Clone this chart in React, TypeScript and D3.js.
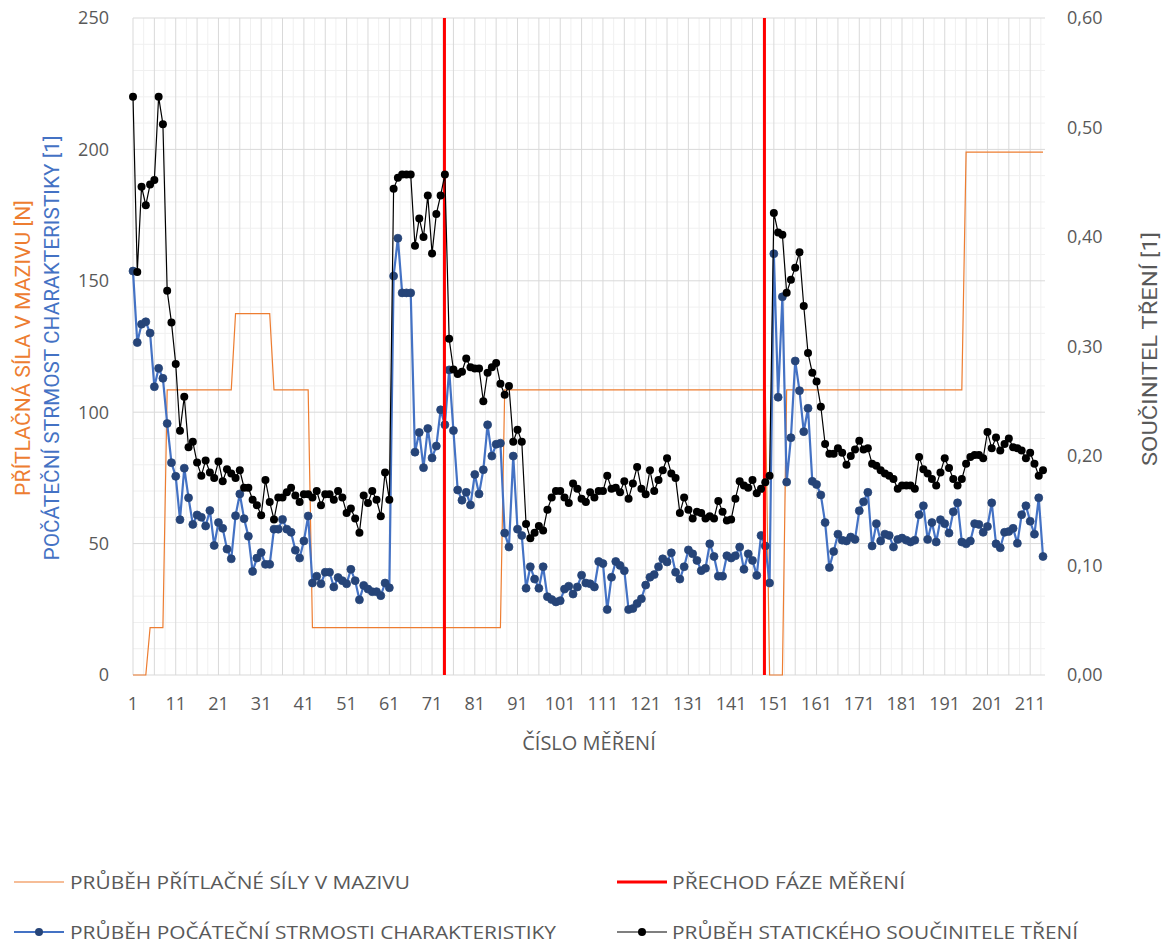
import React from "react";
import * as d3 from "d3";

// ---- data ----
const measurements: number[] = d3.range(1, 215); // čísla měření 1..214

// průběh přítlačné síly [N] as runs of constant value (first, last, value)
const forceRuns: [number, number, number][] = [
  [1, 4, 0],
  [5, 8, 18],
  [9, 24, 108.5],
  [25, 33, 137.5],
  [34, 42, 108.5],
  [43, 87, 18],
  [88, 149, 108.5],
  [150, 153, 0],
  [154, 195, 108.5],
  [196, 214, 199],
];

// počáteční strmost charakteristiky [1]
const slope: number[] = [
  153.7, 126.5, 133.5, 134.4, 130.1, 109.7, 116.7, 112.9, 95.7, 80.8,
  75.6, 59.1, 78.7, 67.4, 57.3, 60.9, 60.0, 56.7, 62.6, 49.3,
  58.0, 55.8, 47.9, 44.2, 60.6, 68.9, 59.5, 52.8, 39.4, 44.5,
  46.6, 42.1, 42.1, 55.5, 55.5, 59.2, 55.5, 54.3, 47.5, 44.5,
  51.0, 60.5, 35.0, 37.6, 34.7, 39.1, 39.1, 33.5, 37.1, 35.9,
  34.7, 40.2, 35.9, 28.6, 34.1, 32.7, 31.7, 31.7, 30.2, 35.0,
  33.2, 151.8, 166.2, 145.4, 145.4, 145.4, 84.8, 92.3, 78.9, 93.8,
  82.6, 87.1, 100.9, 95.2, 116.1, 93.0, 70.4, 66.5, 69.5, 64.7,
  76.3, 68.9, 78.1, 95.2, 83.3, 87.8, 88.2, 54.0, 48.7, 83.3,
  55.5, 53.1, 33.0, 41.2, 36.5, 33.0, 41.2, 29.8, 28.7, 27.8,
  28.3, 32.7, 33.8, 30.8, 33.5, 38.0, 35.0, 34.7, 33.5, 43.2,
  42.4, 24.9, 37.2, 43.2, 41.7, 39.7, 24.9, 25.3, 27.2, 29.0,
  34.2, 37.2, 38.2, 41.2, 44.2, 43.0, 46.5, 39.1, 36.5, 41.2,
  47.6, 46.1, 43.6, 39.7, 40.6, 49.9, 45.1, 37.6, 37.6, 45.4,
  44.5, 45.4, 48.7, 40.2, 46.1, 43.6, 37.9, 53.1, 49.1, 35.0,
  160.3, 105.7, 143.9, 73.4, 90.3, 119.5, 108.2, 92.6, 101.5, 73.7,
  72.5, 68.5, 58.0, 40.9, 47.0, 53.6, 51.3, 51.0, 52.5, 51.6,
  62.5, 65.9, 69.5, 49.1, 57.6, 51.0, 53.6, 53.1, 48.7, 51.6,
  52.1, 51.3, 50.6, 51.3, 61.0, 64.4, 51.6, 58.0, 50.6, 59.1,
  57.6, 54.0, 62.1, 65.5, 50.6, 49.9, 51.0, 57.6, 57.3, 54.3,
  56.5, 65.5, 49.9, 48.4, 54.3, 54.6, 55.8, 50.1, 61.0, 64.4,
  58.5, 53.6, 67.4, 45.1,
];

// statický součinitel tření [1]
const friction: number[] = [
  0.528, 0.368, 0.446, 0.429, 0.448, 0.452, 0.528, 0.503, 0.351, 0.322,
  0.284, 0.223, 0.254, 0.208, 0.213, 0.194, 0.182, 0.196, 0.185, 0.180,
  0.195, 0.177, 0.188, 0.184, 0.180, 0.187, 0.171, 0.171, 0.160, 0.155,
  0.146, 0.178, 0.158, 0.142, 0.162, 0.162, 0.167, 0.171, 0.164, 0.158,
  0.165, 0.165, 0.162, 0.168, 0.155, 0.165, 0.165, 0.160, 0.168, 0.162,
  0.148, 0.152, 0.143, 0.130, 0.164, 0.157, 0.168, 0.160, 0.145, 0.185,
  0.160, 0.444, 0.454, 0.457, 0.457, 0.457, 0.392, 0.417, 0.400, 0.438,
  0.385, 0.421, 0.438, 0.457, 0.307, 0.279, 0.275, 0.277, 0.289, 0.281,
  0.280, 0.280, 0.250, 0.276, 0.281, 0.285, 0.266, 0.256, 0.264, 0.213,
  0.224, 0.213, 0.138, 0.125, 0.130, 0.136, 0.132, 0.151, 0.162, 0.168,
  0.168, 0.162, 0.157, 0.175, 0.170, 0.161, 0.158, 0.167, 0.162, 0.168,
  0.168, 0.182, 0.170, 0.171, 0.167, 0.177, 0.161, 0.175, 0.190, 0.170,
  0.165, 0.187, 0.168, 0.178, 0.187, 0.198, 0.184, 0.180, 0.148, 0.162,
  0.151, 0.143, 0.149, 0.148, 0.143, 0.145, 0.143, 0.159, 0.149, 0.141,
  0.142, 0.161, 0.177, 0.173, 0.171, 0.178, 0.166, 0.170, 0.176, 0.182,
  0.422, 0.404, 0.402, 0.349, 0.361, 0.372, 0.386, 0.337, 0.294, 0.276,
  0.268, 0.245, 0.211, 0.202, 0.202, 0.207, 0.203, 0.192, 0.200, 0.206,
  0.214, 0.206, 0.207, 0.193, 0.191, 0.187, 0.184, 0.182, 0.179, 0.170,
  0.173, 0.173, 0.173, 0.170, 0.199, 0.188, 0.184, 0.179, 0.173, 0.185,
  0.198, 0.189, 0.179, 0.173, 0.179, 0.193, 0.199, 0.201, 0.201, 0.198,
  0.222, 0.207, 0.217, 0.205, 0.211, 0.216, 0.208, 0.207, 0.205, 0.198,
  0.203, 0.193, 0.182, 0.187,
];

// přechod fáze měření (positions on the measurement axis)
const phaseChanges: number[] = [73.9, 148.8];

const xTickLabels: number[] = [1, 11, 21, 31, 41, 51, 61, 71, 81, 91, 101, 111, 121, 131, 141, 151, 161, 171, 181, 191, 201, 211];
const leftTicks: number[] = [0, 50, 100, 150, 200, 250];
const rightTicks: number[] = [0, 0.1, 0.2, 0.3, 0.4, 0.5, 0.6];

const force: number[] = measurements.map((m) => {
  const run = forceRuns.find(([a, b]) => m >= a && m <= b);
  return run ? run[2] : 0;
});

// ---- styling ----
const W = 1175;
const H = 945;
const plot = { left: 133, right: 1043, top: 18, bottom: 675 };
const TXT = "#595959";
const FONT = "'Open Sans', 'Noto Sans', sans-serif";
const ORANGE = "#ED7D31";
const BLUE_LINE = "#4472C4";
const BLUE_DOT = "#264478";

export default function App() {
  const x = d3.scaleLinear().domain([1, 214]).range([plot.left, plot.right]);
  const yL = d3.scaleLinear().domain([0, 250]).range([plot.bottom, plot.top]);
  const yR = d3.scaleLinear().domain([0, 0.6]).range([plot.bottom, plot.top]);

  const lineL = d3
    .line<number>()
    .x((_, i) => x(measurements[i]))
    .y((d) => yL(d));
  const lineR = d3
    .line<number>()
    .x((_, i) => x(measurements[i]))
    .y((d) => yR(d));

  const minorH = d3.range(0, 251, 10).filter((v) => v % 50 !== 0);
  const majorV = d3.range(1, 215, 5);
  const minorV = d3.range(3.5, 215, 5);

  const fmtR = (v: number) => v.toFixed(2).replace(".", ",");

  const legendText = (tx: number, ty: number, len: number, s: string) => (
    <text x={tx} y={ty} dy="0.36em" textLength={len} lengthAdjust="spacingAndGlyphs">
      {s}
    </text>
  );

  return (
    <svg
      width={W}
      height={H}
      style={{ position: "absolute", left: 0, top: 0, background: "#fff" }}
      fontFamily={FONT}
    >
      <rect x={0} y={0} width={W} height={H} fill="#fff" />
      {/* grid */}
      <g>
        {minorH.map((v) => (
          <line key={"mh" + v} x1={plot.left} x2={plot.right + 2} y1={yL(v)} y2={yL(v)} stroke="#f0f0f0" strokeWidth={1} />
        ))}
        {minorV.map((v) => (
          <line key={"mv" + v} x1={x(v)} x2={x(v)} y1={plot.top} y2={plot.bottom} stroke="#f0f0f0" strokeWidth={1} />
        ))}
        {majorV.map((v) => (
          <line key={"v" + v} x1={x(v)} x2={x(v)} y1={plot.top} y2={plot.bottom} stroke="#d9d9d9" strokeWidth={1} />
        ))}
        {leftTicks.map((v) => (
          <line key={"h" + v} x1={plot.left} x2={plot.right + 2} y1={yL(v)} y2={yL(v)} stroke="#d9d9d9" strokeWidth={1} />
        ))}
      </g>

      {/* orange force */}
      <path d={lineL(force) || ""} fill="none" stroke={ORANGE} strokeWidth={1.2} />

      {/* blue slope */}
      <path d={lineL(slope) || ""} fill="none" stroke={BLUE_LINE} strokeWidth={2.2} strokeLinejoin="round" />
      {slope.map((v, i) => (
        <circle key={"b" + i} cx={x(measurements[i])} cy={yL(v)} r={4} fill={BLUE_DOT} stroke={BLUE_DOT} strokeWidth={0.75} />
      ))}

      {/* red phase lines */}
      {phaseChanges.map((p) => (
        <line key={"r" + p} x1={x(p)} x2={x(p)} y1={plot.top} y2={plot.bottom} stroke="#FF0000" strokeWidth={3} />
      ))}

      {/* black friction */}
      <path d={lineR(friction) || ""} fill="none" stroke="#000" strokeWidth={1.2} strokeLinejoin="round" />
      {friction.map((v, i) => (
        <circle key={"k" + i} cx={x(measurements[i])} cy={yR(v)} r={4} fill="#000" />
      ))}

      {/* left axis labels */}
      {leftTicks.map((v) => (
        <text key={"lt" + v} x={109} y={yL(v)} dy="0.36em" textAnchor="end" fontSize={18} fill={TXT}>
          {v}
        </text>
      ))}
      {/* right axis labels */}
      {rightTicks.map((v) => (
        <text key={"rt" + v} x={1067} y={yR(v)} dy="0.36em" textAnchor="start" fontSize={18} fill={TXT}>
          {fmtR(v)}
        </text>
      ))}
      {/* x tick labels */}
      {xTickLabels.map((v) => (
        <text key={"xt" + v} x={x(v)} y={710} textAnchor="middle" fontSize={18} fill={TXT}>
          {v}
        </text>
      ))}

      {/* axis titles */}
      <text x={589} y={750} textAnchor="middle" fontSize={20} fill={TXT}>
        ČÍSLO MĚŘENÍ
      </text>
      <text
        transform="translate(30,348) rotate(-90)"
        textAnchor="middle"
        fontSize={20}
        fill={ORANGE}
        fontFamily="Roboto, sans-serif"
        textLength={296}
        lengthAdjust="spacingAndGlyphs"
      >
        PŘÍTLAČNÁ SÍLA V MAZIVU [N]
      </text>
      <text
        transform="translate(59,348) rotate(-90)"
        textAnchor="middle"
        fontSize={20}
        fill={BLUE_LINE}
        fontFamily="Roboto, sans-serif"
        textLength={425}
        lengthAdjust="spacingAndGlyphs"
      >
        POČÁTEČNÍ STRMOST CHARAKTERISTIKY [1]
      </text>
      <text
        transform="translate(1157,349) rotate(-90)"
        textAnchor="middle"
        fontSize={20}
        fill={TXT}
        fontFamily="Roboto, sans-serif"
        textLength={234}
        lengthAdjust="spacingAndGlyphs"
      >
        SOUČINITEL TŘENÍ [1]
      </text>

      {/* legend */}
      <g fontSize={19} fill={TXT}>
        <line x1={14} x2={64} y1={882} y2={882} stroke={ORANGE} strokeWidth={1.2} />
        {legendText(70, 882, 340, "PRŮBĚH PŘÍTLAČNÉ SÍLY V MAZIVU")}

        <line x1={617} x2={667} y1={882} y2={882} stroke="#FF0000" strokeWidth={3} />
        {legendText(672, 882, 233, "PŘECHOD FÁZE MĚŘENÍ")}

        <line x1={14} x2={64} y1={932} y2={932} stroke={BLUE_LINE} strokeWidth={2.2} />
        <circle cx={39} cy={932} r={4} fill={BLUE_DOT} />
        {legendText(70, 932, 486, "PRŮBĚH POČÁTEČNÍ STRMOSTI CHARAKTERISTIKY")}

        <line x1={617} x2={667} y1={932} y2={932} stroke="#000" strokeWidth={1.2} />
        <circle cx={642} cy={932} r={4} fill="#000" />
        {legendText(672, 932, 406, "PRŮBĚH STATICKÉHO SOUČINITELE TŘENÍ")}
      </g>
    </svg>
  );
}
